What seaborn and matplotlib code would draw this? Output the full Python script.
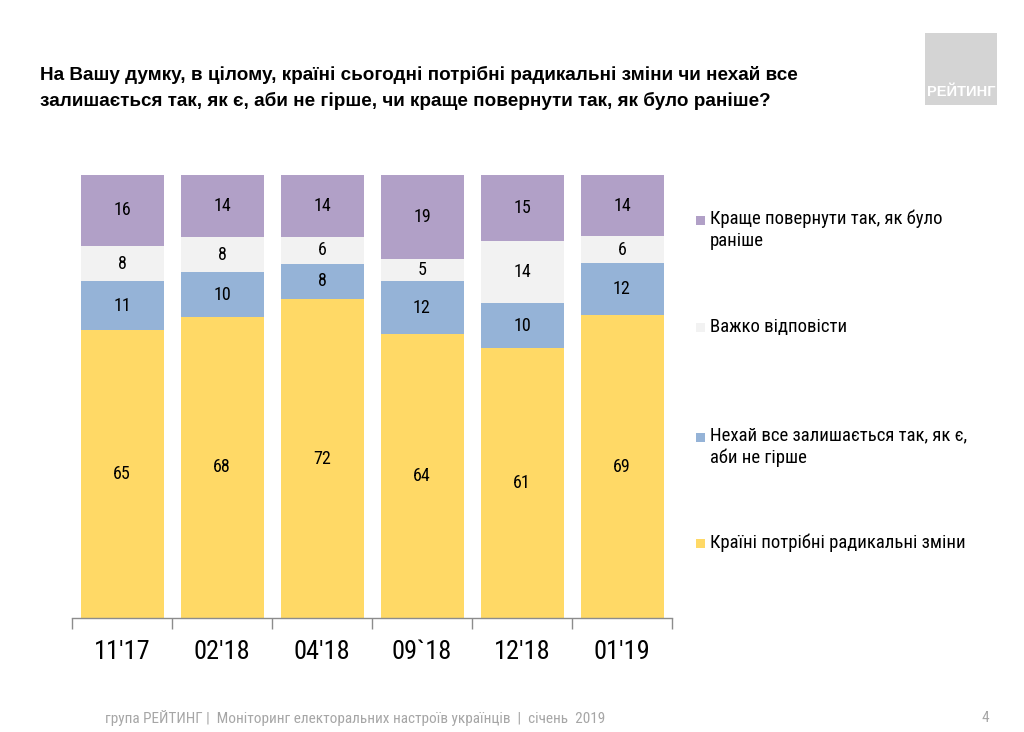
import matplotlib
matplotlib.use('Agg')
import matplotlib.pyplot as plt
import seaborn as sns
import numpy as np
from matplotlib.patches import Rectangle

# ---- data ----
periods = ["11'17", "02'18", "04'18", "09`18", "12'18", "01'19"]
radical = [65, 68, 72, 64, 61, 69]
stay = [11, 10, 8, 12, 10, 12]
hard = [8, 8, 6, 5, 14, 6]
back = [16, 14, 14, 19, 15, 14]
series_names = ["Країні потрібні радикальні зміни",
                "Нехай все залишається так, як є,\nаби не гірше",
                "Важко відповісти",
                "Краще повернути так, як було\nраніше"]
colors = ["#FFD966", "#95B3D7", "#F2F2F2", "#B1A0C7"]
title_text = ("На Вашу думку, в цілому, країні сьогодні потрібні радикальні зміни чи нехай все\n"
              "залишається так, як є, аби не гірше, чи краще повернути так, як було раніше?")
footer_text = "група РЕЙТИНГ |  Моніторинг електоральних настроїв українців  |  січень  2019"
page_no = "4"
logo_text = "РЕЙТИНГ"

sns.set_theme(style="white")
narrow = ['Roboto Condensed', 'PT Sans Narrow', 'Liberation Sans', 'DejaVu Sans']
plt.rcParams['font.family'] = ['Liberation Sans', 'DejaVu Sans']

W, H = 1024, 732
fig = plt.figure(figsize=(W / 100, H / 100), dpi=100, facecolor='white')


def fx(px):
    return px / W


def fy(py):
    return 1 - py / H


ax = fig.add_axes([fx(72), fy(618), fx(672) - fx(72), fy(175) - fy(618)])
ax.set_facecolor('none')

series = [radical, stay, hard, back]
arr = np.array(series, dtype=float)
totals = arr.sum(axis=0)
shares = arr / totals * 100          # 100% stacked columns
cum = np.cumsum(shares, axis=0)

# draw stacked bars from the top layer down
for i in range(len(series) - 1, -1, -1):
    sns.barplot(x=periods, y=cum[i], order=periods, color=colors[i],
                saturation=1, width=0.83, linewidth=0, ax=ax)

# value labels
for i, vals in enumerate(series):
    bottoms = cum[i] - shares[i]
    for j, v in enumerate(vals):
        yc = bottoms[j] + shares[i][j] / 2
        ax.text(j, yc, str(v), ha='center', va='center', fontsize=13,
                color='black', family=narrow)

ax.set_ylim(0, 100)
ax.set_xlim(-0.5, len(periods) - 0.5)
ax.set_yticks([])
ax.set_ylabel('')
ax.set_xlabel('')
for s in ['top', 'right', 'left']:
    ax.spines[s].set_visible(False)
ax.spines['bottom'].set_color('#8C8C8C')
ax.spines['bottom'].set_linewidth(1)
ax.set_xticks(range(len(periods)))
ax.set_xticklabels(periods, family=narrow, fontsize=19, color='black')
ax.tick_params(axis='x', which='major', length=0, pad=16)
ax.set_xticks(np.arange(-0.5, len(periods), 1), minor=True)
ax.tick_params(axis='x', which='minor', length=8, color='#8C8C8C', width=1,
               bottom=True)

# title
fig.text(fx(40), fy(88), title_text, ha='left', va='center', fontsize=13.6,
         fontweight='bold', color='black', linespacing=1.6)

# legend (manual, to match spacing)
leg_rows = [(3, 220), (2, 327), (1, 437), (0, 543)]
for idx, py in leg_rows:
    fig.add_artist(Rectangle((fx(696), fy(py) - 4.5 / H), 9 / W, 9 / H,
                             transform=fig.transFigure, color=colors[idx],
                             linewidth=0))
    name = series_names[idx]
    if '\n' in name:
        fig.text(fx(710), fy(py - 11), name, ha='left', va='top',
                 fontsize=13.5, family=narrow, color='black', linespacing=1.3)
    else:
        fig.text(fx(710), fy(py), name, ha='left', va='center',
                 fontsize=13.5, family=narrow, color='black')

# logo
fig.add_artist(Rectangle((fx(925), fy(105)), 72 / W, 72 / H,
                         transform=fig.transFigure, color='#D4D4D4', linewidth=0))
fig.text(fx(961), fy(92), logo_text, ha='center', va='center', fontsize=10.5,
         fontweight='bold', color='white')

# footer
fig.text(fx(105), fy(718), footer_text, ha='left', va='center', fontsize=11,
         family=narrow, color='#A6A6A6')
fig.text(fx(985), fy(718), page_no, ha='center', va='center', fontsize=11,
         family=narrow, color='#A6A6A6')

fig.savefig('out.png', dpi=100, facecolor='white')
